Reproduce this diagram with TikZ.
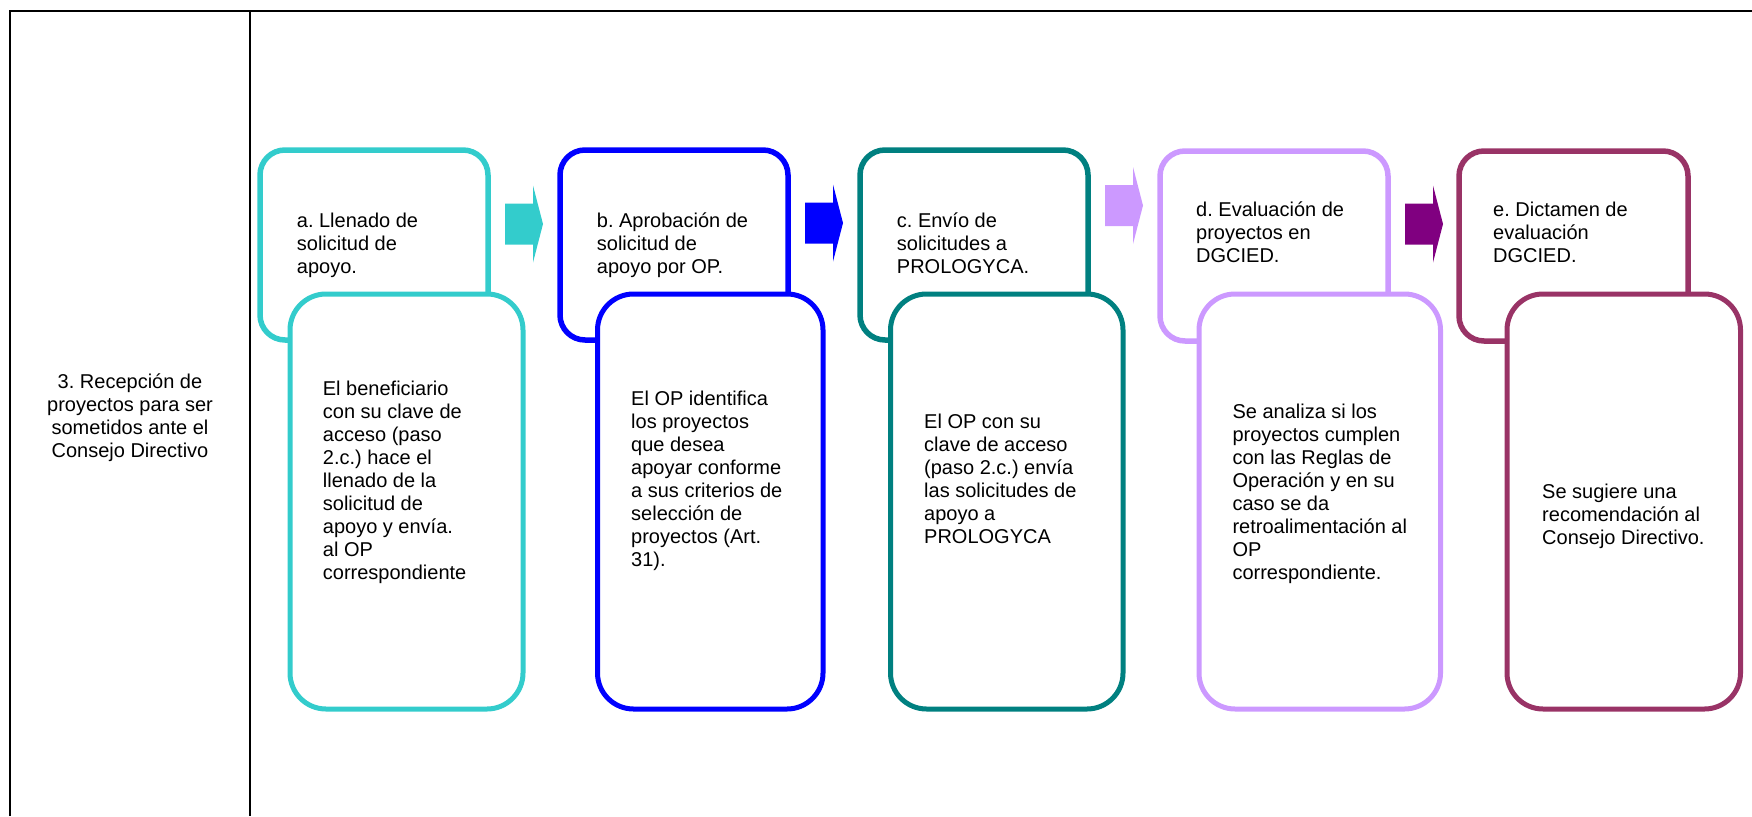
\documentclass[tikz,border=0pt]{standalone}
\usepackage{fontspec}
\setmainfont{Liberation Sans}
\frenchspacing
\definecolor{cA}{HTML}{33CCCC}
\definecolor{cB}{HTML}{0000FF}
\definecolor{cC}{HTML}{008080}
\definecolor{cD}{HTML}{CC99FF}
\definecolor{cE}{HTML}{993366}
\definecolor{cAr}{HTML}{800080}
\newcommand\ml[2][l]{\begin{tabular}[t]{@{}#1@{}}#2\end{tabular}}
\newcommand\blockarrow[3]{\fill[#1] (#2,#3) ++(0,-20.5) -- ++(28,0) -- ++(0,-18) -- ++(10,38.5) -- ++(-10,38.5) -- ++(0,-18) -- ++(-28,0) -- cycle;}
\begin{document}
\begin{tikzpicture}[x=1pt,y=-1pt,
 titlebox/.style={draw=#1, line width=5.5pt, rounded corners=25pt, fill=white, minimum height=190pt, inner sep=0pt},
 detailbox/.style={draw=#1, line width=5pt, rounded corners=36pt, fill=white, minimum height=415pt, inner sep=0pt},
 txt/.style={inner sep=0pt, anchor=base west, font=\fontsize{20}{23}\selectfont},
 frame/.style={line width=2.3pt, black, line join=miter}]
\useasboundingbox (0,0) rectangle (1752,816);
% table frame
\draw[frame] (10,816) -- (10,11) -- (1752,11);
\draw[frame] (250,11) -- (250,816);
\node[inner sep=0pt, anchor=base, font=\fontsize{20}{23}\selectfont] (lbl) at (130,388) {\ml[c]{3. Recepción de\\proyectos para ser\\sometidos ante el\\Consejo Directivo}};
% a
\node[titlebox=cA, minimum width=228pt] (A1) at (374,245) {};
\node[detailbox=cA, minimum width=233pt] (A2) at (406.5,501.5) {};
\node[txt] (tA1) at (296.7,227) {\ml{a. Llenado de\\solicitud de\\apoyo.}};
\node[txt] (tA2) at (322.7,395) {\ml{El beneficiario\\con su clave de\\acceso (paso\\2.c.) hace el\\llenado de la\\solicitud de\\apoyo y envía.\\al OP\\correspondiente}};
% b
\node[titlebox=cB, minimum width=228pt] (B1) at (674,245) {};
\node[detailbox=cB, minimum width=225.5pt] (B2) at (710.25,501.5) {};
\node[txt] (tB1) at (596.7,227) {\ml{b. Aprobación de\\solicitud de\\apoyo por OP.}};
\node[txt] (tB2) at (631,405.5) {\ml{El OP identifica\\los proyectos\\que desea\\apoyar conforme\\a sus criterios de\\selección de\\proyectos (Art.\\31).}};
% c
\node[titlebox=cC, minimum width=228pt] (C1) at (974,245) {};
\node[detailbox=cC, minimum width=232.5pt] (C2) at (1006.75,501.5) {};
\node[txt] (tC1) at (896.7,227) {\ml{c. Envío de\\solicitudes a\\PROLOGYCA.}};
\node[txt] (tC2) at (924,428.5) {\ml{El OP con su\\clave de acceso\\(paso 2.c.) envía\\las solicitudes de\\apoyo a\\PROLOGYCA}};
% d
\node[titlebox=cD, minimum width=228pt] (D1) at (1274,246) {};
\node[detailbox=cD, minimum width=241.5pt] (D2) at (1319.75,501.5) {};
\node[txt] (tD1) at (1196,216) {\ml{d. Evaluación de\\proyectos en\\DGCIED.}};
\node[txt] (tD2) at (1232.3,418) {\ml{Se analiza si los\\proyectos cumplen\\con las Reglas de\\Operación y en su\\caso se da\\retroalimentación al\\OP\\correspondiente.}};
% e
\node[titlebox=cE, minimum width=229pt] (E1) at (1573.5,246) {};
\node[detailbox=cE, minimum width=233.5pt] (E2) at (1623.75,501.5) {};
\node[txt] (tE1) at (1493,216) {\ml{e. Dictamen de\\evaluación\\DGCIED.}};
\node[txt] (tE2) at (1542,498) {\ml{Se sugiere una\\recomendación al\\Consejo Directivo.}};
% block arrows
\blockarrow{cA}{505}{224}
\blockarrow{cB}{805}{223}
\blockarrow{cD}{1105}{205.5}
\blockarrow{cAr}{1405}{224}
\end{tikzpicture}
\end{document}
